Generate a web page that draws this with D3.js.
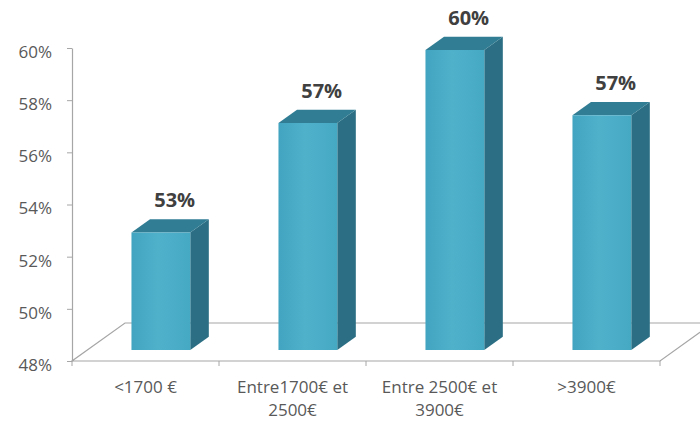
<!DOCTYPE html>
<html>
<head>
<meta charset="utf-8">
<script src="https://cdn.jsdelivr.net/npm/d3@7"></script>
<style>
  body { margin: 0; background: #fff; }
  svg { display: block; }
</style>
</head>
<body>
<svg id="chart"></svg>
<script>
const categories = [["<1700 €"], ["Entre1700€ et", "2500€"], ["Entre 2500€ et", "3900€"], [">3900€"]];
const values = [52.5, 56.7, 59.5, 57.0];
const valueLabels = ["53%", "57%", "60%", "57%"];
const yTicks = [48, 50, 52, 54, 56, 58, 60];

const width = 700;
const height = 423;
const plotLeft = 72, plotRight = 660, plotTop = 48, plotBottom = 361;
// oblique depth vector of the floor
const DX = 53, DY = -38;
const z0 = 0.29, z1 = 0.64;

const svg = d3.select("#chart").attr("width", width).attr("height", height);

const x = d3.scaleBand()
  .domain(d3.range(categories.length))
  .range([plotLeft, plotRight])
  .paddingInner(0.6)
  .paddingOuter(0.3);

const y = d3.scaleLinear().domain([48, 60]).range([plotBottom, plotTop]);

const proj = (px, py, z) => [px + z * DX, py + z * DY];
const poly = (pts) => "M" + pts.map((p) => p.join(",")).join("L") + "Z";

const defs = svg.append("defs");
const grad = defs.append("linearGradient").attr("id", "front").attr("x1", 0).attr("x2", 1).attr("y1", 0).attr("y2", 0);
grad.append("stop").attr("offset", "0%").attr("stop-color", "#42a4c0");
grad.append("stop").attr("offset", "45%").attr("stop-color", "#50b1cb");
grad.append("stop").attr("offset", "100%").attr("stop-color", "#46a9c4");

// floor
const floorColor = "#a6a6a6";
const y0 = y(48);
svg.append("path")
  .attr("d", poly([proj(plotLeft, y0, 0), proj(plotRight, y0, 0), proj(plotRight, y0, 1), proj(plotLeft, y0, 1)]))
  .attr("fill", "#fff")
  .attr("stroke", floorColor)
  .attr("stroke-width", 1.2);

// y axis
const yAxis = svg.append("g")
  .attr("transform", `translate(${plotLeft},0)`)
  .call(d3.axisLeft(y).tickValues(yTicks).tickFormat((d) => d + "%").tickSize(5).tickSizeOuter(0).tickPadding(15));
yAxis.select(".domain").attr("stroke", floorColor).attr("stroke-width", 1.2);
yAxis.selectAll(".tick line").attr("stroke", floorColor);
yAxis.selectAll(".tick text")
  .attr("dy", "0.55em")
  .style("font-family", "'Open Sans', sans-serif")
  .style("font-size", "17px")
  .style("fill", "#595959");

// x axis ticks at band boundaries
const bounds = d3.range(categories.length + 1).map((i) => x.range()[0] + i * x.step());
svg.append("g").selectAll("line")
  .data(bounds)
  .join("line")
  .attr("x1", (d) => d).attr("x2", (d) => d)
  .attr("y1", y0).attr("y2", y0 + 5)
  .attr("stroke", floorColor);

// bars
const bars = svg.append("g").selectAll("g")
  .data(values)
  .join("g");

bars.append("path")
  .attr("d", (d, i) => {
    const x1 = x(i) + x.bandwidth();
    return poly([proj(x1, y0, z0), proj(x1, y0, z1), proj(x1, y(d), z1), proj(x1, y(d), z0)]);
  })
  .attr("fill", "#2c6f84");

bars.append("path")
  .attr("d", (d, i) => {
    const x0 = x(i), x1 = x(i) + x.bandwidth();
    return poly([proj(x0, y(d), z0), proj(x1, y(d), z0), proj(x1, y(d), z1), proj(x0, y(d), z1)]);
  })
  .attr("fill", "#317d94");

bars.append("path")
  .attr("d", (d, i) => {
    const x0 = x(i), x1 = x(i) + x.bandwidth();
    return poly([proj(x0, y0, z0), proj(x1, y0, z0), proj(x1, y(d), z0), proj(x0, y(d), z0)]);
  })
  .attr("fill", "url(#front)");

// value labels
svg.append("g").selectAll("text")
  .data(values)
  .join("text")
  .attr("x", (d, i) => proj(x(i) + x.bandwidth() / 2, y(d), 0.55)[0])
  .attr("y", (d, i) => proj(0, y(d), z1)[1] - 12)
  .attr("text-anchor", "middle")
  .style("font-family", "'Open Sans', sans-serif")
  .style("font-size", "20px")
  .style("font-weight", "bold")
  .style("fill", "#404040")
  .text((d, i) => valueLabels[i]);

// category labels
const cat = svg.append("g").selectAll("text")
  .data(categories)
  .join("text")
  .attr("x", (d, i) => x(i) + x.bandwidth() / 2)
  .attr("y", 393)
  .attr("text-anchor", "middle")
  .style("font-family", "'Open Sans', sans-serif")
  .style("font-size", "17px")
  .style("fill", "#595959");
cat.selectAll("tspan")
  .data((d) => d)
  .join("tspan")
  .attr("x", function () { return this.parentNode.getAttribute("x"); })
  .attr("dy", (d, i) => (i === 0 ? 0 : 23))
  .text((d) => d);
</script>
</body>
</html>
